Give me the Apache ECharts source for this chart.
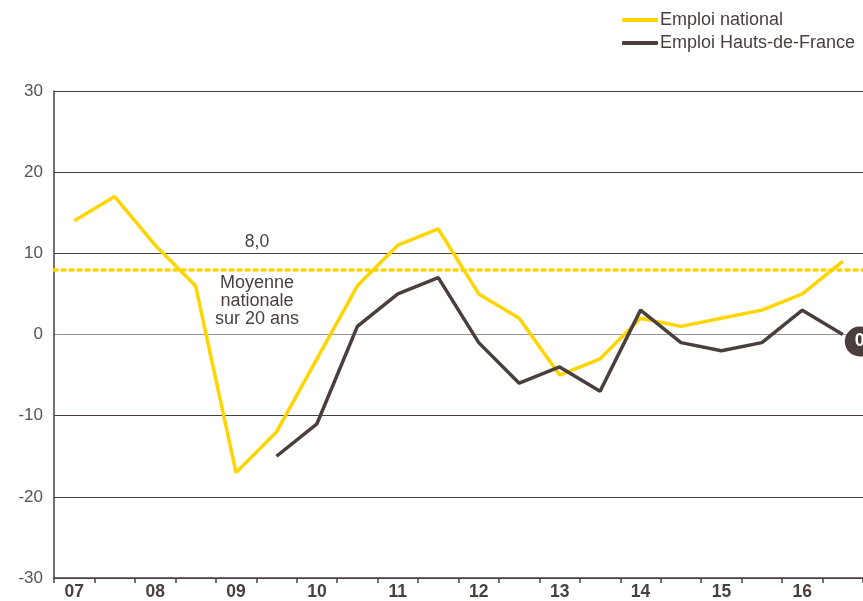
<!DOCTYPE html>
<html lang="fr">
<head>
<meta charset="UTF-8">
<title>Emploi national / Hauts-de-France</title>
<script src="https://cdn.jsdelivr.net/npm/echarts@6/dist/echarts.min.js"></script>
<style>
  html, body { margin: 0; padding: 0; background: #fff; }
  #main { width: 863px; height: 601px; }
</style>
</head>
<body>
<div id="main"></div>
<script>
// deux points par an (semestres)
var years = ['07', '08', '09', '10', '11', '12', '13', '14', '15', '16'];
var periods = [];
years.forEach(function (y) { periods.push(y + '-1'); periods.push(y + '-2'); });

var national = [14, 17, 11, 6, -17, -12, -3, 6, 11, 13, 5, 2, -5, -3, 2, 1, 2, 3, 5, 9];
var region = [null, null, null, null, null, -15, -11, 1, 5, 7, -1, -6, -4, -7, 3, -1, -2, -1, 3, 0];
var moyenne = 8.0;
var yTicks = [-30, -20, -10, 0, 10, 20, 30];

var dark = '#4a3f3c';
var yellow = '#ffd500';
var font = '"Liberation Sans", Arial, sans-serif';

var lastIdx = region.length - 1;

var chart = echarts.init(document.getElementById('main'));
chart.setOption({
  animation: false,
  textStyle: { fontFamily: font },
  legend: {
    orient: 'vertical',
    left: 617,
    top: 6,
    itemWidth: 36,
    itemHeight: 4,
    itemGap: 5,
    icon: 'roundRect',
    textStyle: { color: dark, fontSize: 18, fontFamily: font, padding: [0, 0, 0, -3] },
    data: ['Emploi national', 'Emploi Hauts-de-France']
  },
  grid: { left: 54, right: 0, top: 91, bottom: 21 },
  xAxis: {
    type: 'category',
    data: periods,
    boundaryGap: true,
    axisLine: { onZero: false, lineStyle: { color: dark, width: 1.5 } },
    axisTick: { show: true, interval: 0, length: 5, lineStyle: { color: dark, width: 1.5 } },
    axisLabel: {
      interval: 1,
      margin: 5,
      color: dark,
      fontSize: 17.5,
      fontWeight: 'bold',
      fontFamily: font,
      formatter: function (v) { return v.slice(0, 2); }
    }
  },
  yAxis: {
    type: 'value',
    min: yTicks[0],
    max: yTicks[yTicks.length - 1],
    interval: 10,
    axisLine: { show: true, lineStyle: { color: dark, width: 1.5 } },
    axisTick: { show: false },
    axisLabel: { color: '#5a5150', fontSize: 17, margin: 11, fontFamily: font },
    splitLine: {
      lineStyle: {
        color: [dark, dark, dark, '#9a9392', dark, dark, dark],
        width: 1.2
      }
    }
  },
  graphic: [
    {
      type: 'text', x: 257, y: 233,
      style: { text: '8,0', fill: dark, font: '17.5px ' + font, textAlign: 'center' }
    },
    {
      type: 'text', x: 257, y: 274,
      style: {
        text: 'Moyenne\nnationale\nsur 20 ans',
        fill: dark, font: '18px ' + font,
        textAlign: 'center', lineHeight: 18
      }
    }
  ],
  series: [
    {
      name: 'Emploi national',
      type: 'line',
      data: national,
      symbol: 'none',
      lineStyle: { color: yellow, width: 3.5 },
      itemStyle: { color: yellow },
      markLine: {
        silent: true,
        symbol: 'none',
        label: { show: false },
        lineStyle: { color: yellow, type: [3, 5], width: 3.5, cap: 'round' },
        data: [{ yAxis: moyenne }]
      },
      z: 2
    },
    {
      name: 'Emploi Hauts-de-France',
      type: 'line',
      data: region,
      symbol: 'none',
      lineStyle: { color: dark, width: 3.5 },
      itemStyle: { color: dark },
      markPoint: {
        silent: true,
        symbol: 'circle',
        symbolSize: 30,
        symbolOffset: [17, 7],
        itemStyle: { color: dark },
        label: {
          show: true,
          color: '#fff',
          fontSize: 18,
          fontWeight: 'bold',
          fontFamily: font,
          formatter: String(region[lastIdx])
        },
        data: [{ coord: [periods[lastIdx], region[lastIdx]] }]
      },
      z: 3
    }
  ]
});
</script>
</body>
</html>
